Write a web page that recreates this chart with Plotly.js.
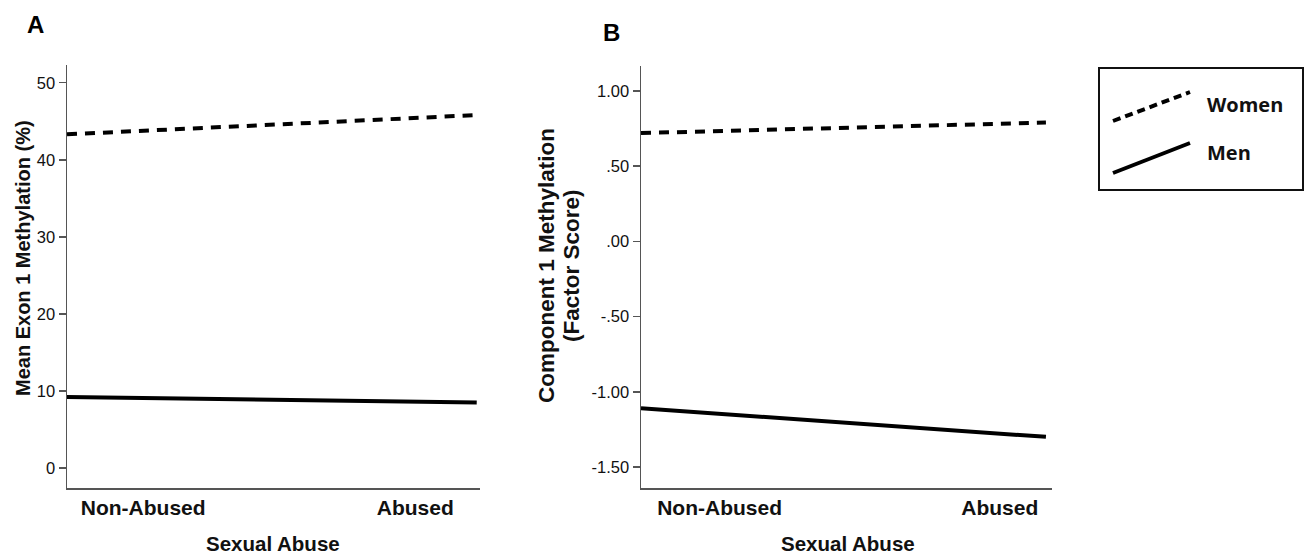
<!DOCTYPE html>
<html>
<head>
<meta charset="utf-8">
<script src="https://cdn.plot.ly/plotly-3.0.1.min.js"></script>
<style>
  html, body { margin: 0; padding: 0; background: #fff; }
  #chart { width: 1309px; height: 556px; }
</style>
</head>
<body>
<div id="chart"></div>
<script>
// ---- data ----
const categories = ['Non-Abused', 'Abused'];
const lineEnds = [0, 1];                 // line runs from left axis to right end
const categoryPosA = [0.186, 0.85];      // where the category labels sit
const categoryPosB = [0.194, 0.886];

const womenA = [43.3, 45.8];
const menA = [9.2, 8.5];
const womenB = [0.72, 0.79];
const menB = [-1.11, -1.30];

const yTicksA = [0, 10, 20, 30, 40, 50];
const yTickTextA = ['0', '10', '20', '30', '40', '50'];
const yTicksB = [-1.5, -1.0, -0.5, 0, 0.5, 1.0];
const yTickTextB = ['-1.50', '-1.00', '-.50', '.00', '.50', '1.00'];

const seriesNames = ['Women', 'Men'];
const xTitle = 'Sexual Abuse';
const yTitleA = 'Mean Exon 1 Methylation (%)';
const yTitleB1 = 'Component 1 Methylation';
const yTitleB2 = '(Factor Score)';

// ---- layout helpers ----
const W = 1309, H = 556;
const px = v => v / W;
const py = v => 1 - v / H;
const FONT = 'Liberation Sans, Arial, sans-serif';

const womenLine = { color: '#000', width: 4, dash: '10px,8px' };
const menLine = { color: '#000', width: 4 };

const traces = [
  { x: lineEnds, y: womenA, name: seriesNames[0], mode: 'lines', line: womenLine, xaxis: 'x', yaxis: 'y' },
  { x: lineEnds, y: menA, name: seriesNames[1], mode: 'lines', line: menLine, xaxis: 'x', yaxis: 'y' },
  { x: lineEnds, y: womenB, name: seriesNames[0], mode: 'lines', line: womenLine, xaxis: 'x2', yaxis: 'y2' },
  { x: lineEnds, y: menB, name: seriesNames[1], mode: 'lines', line: menLine, xaxis: 'x2', yaxis: 'y2' }
];

const axisLine = { showline: true, linecolor: '#555', linewidth: 1.5, showgrid: false, zeroline: false };

const xCommon = Object.assign({}, axisLine, {
  ticks: '', ticktext: categories,
  tickfont: { family: FONT, size: 21, color: '#111', weight: 'bold' },
  fixedrange: true
});
const yCommon = Object.assign({}, axisLine, {
  ticks: 'outside', ticklen: 7, tickwidth: 1.5, tickcolor: '#555',
  tickfont: { family: FONT, size: 16.5, color: '#111' },
  fixedrange: true
});

function ann(text, x, y, size, extra) {
  return Object.assign({
    text: text, x: px(x), y: py(y), xref: 'paper', yref: 'paper',
    xanchor: 'center', yanchor: 'middle', showarrow: false,
    font: { family: FONT, size: size, color: '#111', weight: 'bold' }
  }, extra || {});
}

const layout = {
  width: W, height: H,
  margin: { l: 0, r: 0, t: 0, b: 0 },
  paper_bgcolor: '#fff', plot_bgcolor: '#fff',
  showlegend: false,
  xaxis: Object.assign({}, xCommon, {
    domain: [px(67), px(480)], range: [0, 1.008],
    tickvals: categoryPosA, anchor: 'y'
  }),
  yaxis: Object.assign({}, yCommon, {
    domain: [py(488), py(65)], range: [-2.6, 52.3],
    tickvals: yTicksA, ticktext: yTickTextA, anchor: 'x'
  }),
  xaxis2: Object.assign({}, xCommon, {
    domain: [px(641), px(1052)], range: [0, 1.015],
    tickvals: categoryPosB, anchor: 'y2'
  }),
  yaxis2: Object.assign({}, yCommon, {
    domain: [py(488), py(65.7)], range: [-1.64, 1.168],
    tickvals: yTicksB, ticktext: yTickTextB, anchor: 'x2'
  }),
  annotations: [
    ann('A', 35, 25, 24, { font: { family: FONT, size: 24, color: '#000', weight: 'bold' } }),
    ann('B', 611, 33, 24, { font: { family: FONT, size: 24, color: '#000', weight: 'bold' } }),
    ann(yTitleA, 23, 258, 20, { textangle: -90 }),
    ann(yTitleB1, 546, 266, 22.5, { textangle: -90 }),
    ann(yTitleB2, 571, 266, 22.5, { textangle: -90 }),
    ann(xTitle, 273, 543, 20.5),
    ann(xTitle, 848, 543, 20.5),
    ann(seriesNames[0], 1205, 105, 20, { xanchor: 'left',
      font: { family: 'Open Sans, sans-serif', size: 20, color: '#111', weight: 'bold' } }),
    ann(seriesNames[1], 1205, 152, 20, { xanchor: 'left',
      font: { family: 'Open Sans, sans-serif', size: 20, color: '#111', weight: 'bold' } })
  ],
  shapes: [
    { type: 'rect', xref: 'paper', yref: 'paper', x0: px(1099), x1: px(1303), y0: py(190), y1: py(68),
      line: { color: '#111', width: 2 }, fillcolor: 'rgba(0,0,0,0)' },
    { type: 'line', xref: 'paper', yref: 'paper', x0: px(1113), y0: py(121), x1: px(1190), y1: py(92),
      line: { color: '#000', width: 4, dash: '8px,5px' } },
    { type: 'line', xref: 'paper', yref: 'paper', x0: px(1113), y0: py(173), x1: px(1190), y1: py(143),
      line: { color: '#000', width: 4 } }
  ]
};

Plotly.newPlot('chart', traces, layout, { displayModeBar: false, staticPlot: true });
</script>
</body>
</html>
